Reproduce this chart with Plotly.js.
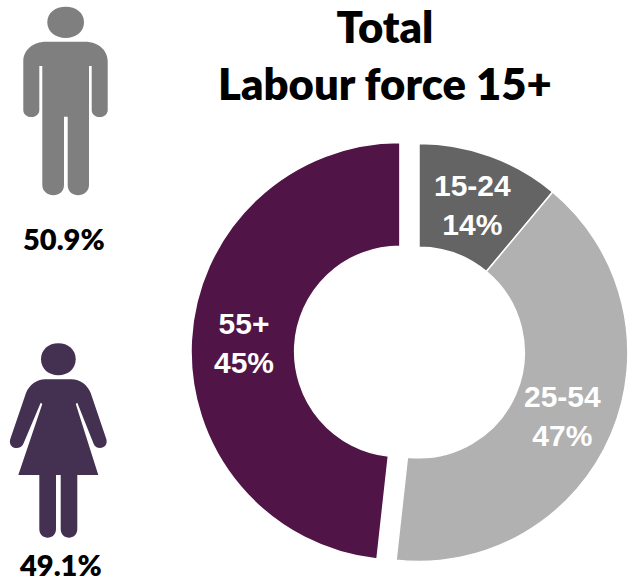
<!DOCTYPE html>
<html>
<head>
<meta charset="utf-8">
<script src="https://cdn.plot.ly/plotly-3.0.1.min.js"></script>
<style>html,body{margin:0;padding:0;width:628px;height:583px;overflow:hidden;background:#fff}</style>
</head>
<body>
<div id="chart"></div>
<script>
var categories = ['15-24', '25-54', '55+'];
var arcShares = [11.05, 40.7, 48.25];
var shareLabels = ['14%', '47%', '45%'];
var sliceColors = ['#646464', '#b1b1b1', '#501546'];
var pullAmounts = [0, 0, 0.0915];
var genderLabels = ['50.9%', '49.1%'];
var titleText = 'Total<br>Labour force 15+';

var W = 660, H = 583;
var px = function (x) { return x / W; };
var py = function (y) { return 1 - y / H; };

// Icon outlines in page pixels: pairs of x y, converted to paper fractions.
function iconPath(d) {
  var isX = true;
  return d.replace(/-?\d+(\.\d+)?/g, function (n) {
    var v = isX ? px(+n) : py(+n);
    isX = !isX;
    return v.toFixed(5);
  });
}
var manHead = 'M 47.3 22.3 C 47.3 12.5 55.5 6.7 65.7 6.7 C 75.8 6.7 84 12.5 84 22.3 C 84 32 75.8 38 65.7 38 C 55.5 38 47.3 32 47.3 22.3 Z';
var manBody = 'M 46 41.7 L 85 41.7 C 98 41.7 107.7 50 107.7 61 L 107.7 110 C 107.7 119.5 91.7 119.5 91.7 110 L 91.7 66 L 89 66 L 89 185 C 89 198 67.7 199 67.7 185 L 67.7 116.7 L 64 116.7 L 64 185 C 64 199 42.3 198 42.3 185 L 42.3 66 L 39.3 66 L 39.3 110 C 39.3 119.5 23.3 119.5 23.3 110 L 23.3 61 C 23.3 50 33 41.7 46 41.7 Z';
var womanHead = 'M 41 359.3 C 41 349.5 48.7 343.3 58.3 343.3 C 68 343.3 75.7 349.5 75.7 359.3 C 75.7 369 68 375.3 58.3 375.3 C 48.7 375.3 41 369 41 359.3 Z';
var womanBody = 'M 45 379.3 L 71.5 379.3 C 80 379.3 87.5 385 90.7 393 L 106.3 439 C 109 449 96 451 93.5 443.5 L 77.3 402.7 L 75.8 404 L 98.3 475 L 77.3 475 L 77.3 529 C 77.3 540.5 60.7 540.5 60.7 529 L 60.7 475 L 56 475 L 56 529 C 56 540.5 39.3 540.5 39.3 529 L 39.3 475 L 18.3 475 L 42.3 404 L 40.7 402.7 L 23.5 443.5 C 20.5 451 7.5 449 10.3 439 L 26 393 C 29.2 385 37 379.3 45 379.3 Z';

function iconShape(d, color) {
  return { type: 'path', xref: 'paper', yref: 'paper', path: iconPath(d), fillcolor: color, line: { width: 0 }, layer: 'above' };
}

var labelPos = [[472, 205], [562.5, 415.5], [244, 342.5]];
var annotations = categories.map(function (c, i) {
  return {
    xref: 'paper', yref: 'paper', x: px(labelPos[i][0]), y: py(labelPos[i][1]),
    xanchor: 'center', yanchor: 'middle', showarrow: false,
    text: c + '<br>' + shareLabels[i],
    font: { family: 'Liberation Sans', size: 30, color: '#ffffff', weight: 700 }
  };
});
[[64, 239], [60, 564]].forEach(function (p, i) {
  annotations.push({
    xref: 'paper', yref: 'paper', x: px(p[0]), y: py(p[1]),
    xanchor: 'center', yanchor: 'middle', showarrow: false,
    text: genderLabels[i],
    font: { family: 'Lato', size: 29, color: '#000000', weight: 800 }
  });
});

var half = 228, cx = 419, cy = 352.5;
var trace = {
  type: 'pie', labels: categories, values: arcShares,
  hole: 0.504, sort: false, direction: 'clockwise', rotation: 0,
  pull: pullAmounts, textinfo: 'none', hoverinfo: 'label',
  marker: { colors: sliceColors, line: { color: '#ffffff', width: 1.5 } },
  domain: { x: [px(cx - half), px(cx + half)], y: [py(cy + half), py(cy - half)] }
};

Plotly.newPlot('chart', [trace], {
  width: W, height: H,
  margin: { l: 0, r: 0, t: 0, b: 0 },
  paper_bgcolor: '#ffffff', showlegend: false,
  title: {
    text: titleText, x: px(385), xanchor: 'center', y: py(43), yanchor: 'top', yref: 'container',
    font: { family: 'Lato', size: 43.6, color: '#000000', weight: 800 }
  },
  annotations: annotations,
  shapes: [
    iconShape(manHead, '#7f7f7f'), iconShape(manBody, '#7f7f7f'),
    iconShape(womanHead, '#443152'), iconShape(womanBody, '#443152')
  ]
}, { displayModeBar: false, staticPlot: true });
</script>
</body>
</html>
